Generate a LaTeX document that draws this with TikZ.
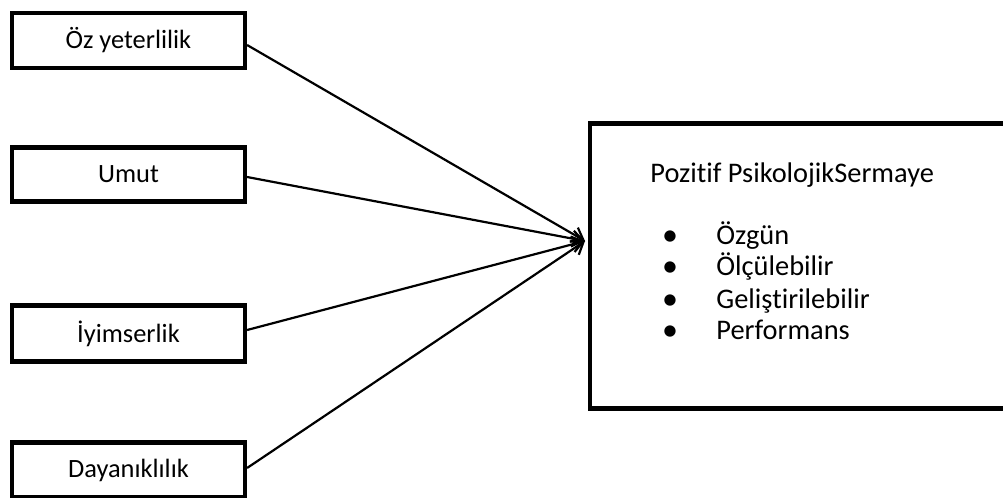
\documentclass[tikz,border=0pt]{standalone}
\usepackage{fontspec}
\setmainfont{Carlito}[RawFeature={-liga,-clig,-dlig}]
\usetikzlibrary{arrows.meta}
\begin{document}
\begin{tikzpicture}[x=0.5pt,y=-0.5pt,
  box/.style={draw=black, line width=2.1pt, fill=white, inner sep=0pt,
    minimum width=116.5pt, font=\fontsize{13.2pt}{15pt}\selectfont},
  conn/.style={draw=black, line width=1.1pt, -{Straight Barb[length=5.5pt,width=8pt,line width=1.1pt]}},
  rtext/.style={anchor=base west, inner sep=0pt, font=\fontsize{14.2pt}{16pt}\selectfont},
  bul/.style={anchor=base, inner sep=0pt, font=\fontsize{16pt}{16pt}\selectfont}]
\useasboundingbox (0,0) rectangle (1003,498);
\clip (0,0) rectangle (1003,498);
\node[box, minimum height=27.5pt] (b1) at (128.5,40.5) {Öz yeterlilik};
\node[box, minimum height=27pt] (b2) at (128.5,174.5) {Umut};
\node[box, minimum height=28pt] (b3) at (128.5,333.5) {İyimserlik};
\node[box, minimum height=27.5pt] (b4) at (128.5,470) {Dayanıklılık};
\node[draw=black, line width=2.1pt, inner sep=0pt, minimum width=211pt, minimum height=142.5pt] (rb) at (801,266) {};
\node[rtext] (title) at (650,182) {Pozitif PsikolojikSermaye};
\node[bul] (d1) at (670,245) {•};
\node[bul] (d2) at (670,276) {•};
\node[bul] (d3) at (670,309) {•};
\node[bul] (d4) at (670,340) {•};
\node[rtext] (i1) at (716,244) {Özgün};
\node[rtext] (i2) at (716,275) {Ölçülebilir};
\node[rtext] (i3) at (716,308) {Geliştirilebilir};
\node[rtext] (i4) at (716,339) {Performans};
\coordinate (tip) at (585,241);
\draw[conn] ([yshift=-2.25pt]b1.east) -- (tip);
\draw[conn] ([yshift=-1.25pt]b2.east) -- (tip);
\draw[conn] ([yshift=1.75pt]b3.east) -- (tip);
\draw[conn] ([yshift=1pt]b4.east) -- (tip);
\end{tikzpicture}
\end{document}
